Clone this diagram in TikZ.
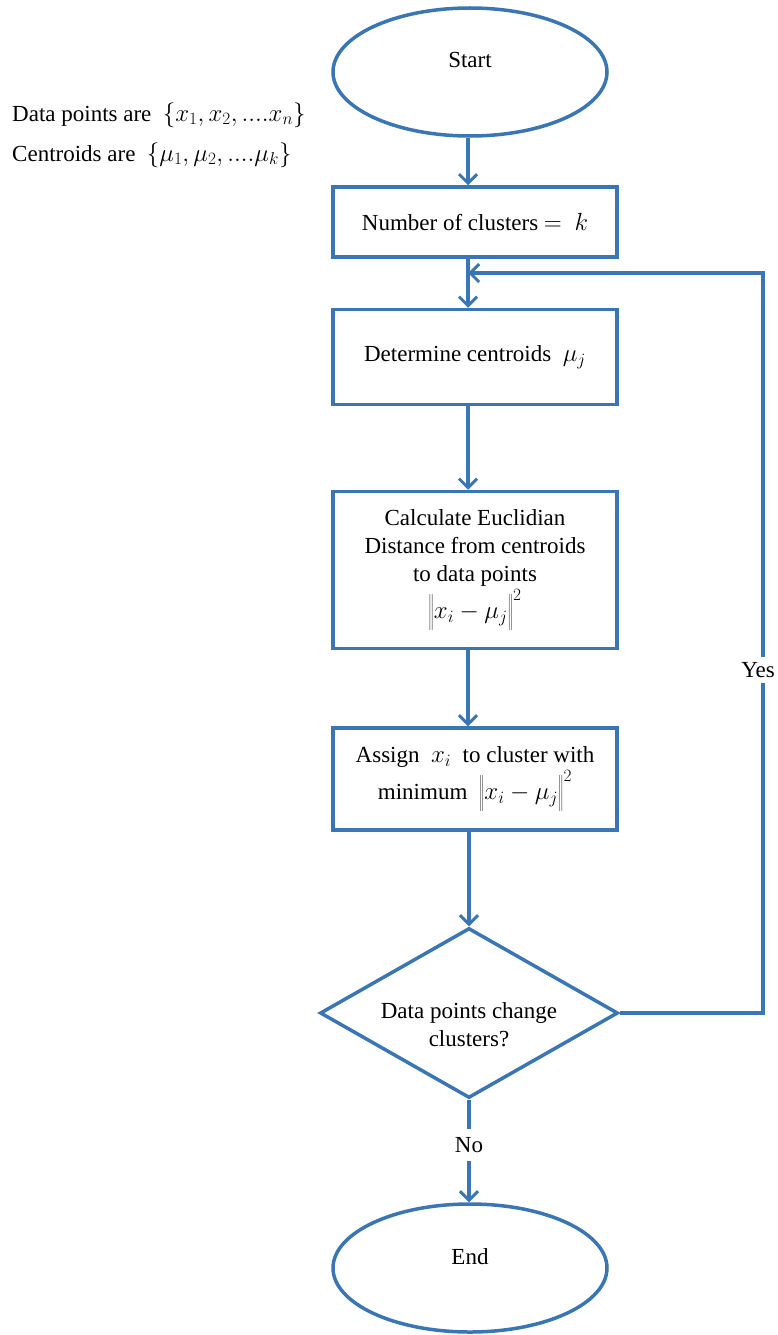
\documentclass[tikz,border=0pt]{standalone}
\usepackage{fontspec}
\setmainfont{Liberation Serif}
\usetikzlibrary{shapes.geometric,arrows.meta}
\definecolor{flowblue}{RGB}{58,117,181}
\newcommand{\sqdist}{\left\Vert\rule[-11pt]{0pt}{36pt} x_i - \mu_j \right\Vert^2}
\begin{document}
\begin{tikzpicture}[x=1pt,y=-1pt,
  every node/.style={font=\fontsize{23}{28}\selectfont},
  flowline/.style={draw=flowblue,line width=3.5pt},
  arrow/.style={flowline,-{Straight Barb[length=9pt,width=18pt,line width=3pt]}},
  stepbox/.style={flowline,rectangle,fill=white,minimum width=284pt,align=center,inner sep=4pt},
  terminal/.style={flowline,ellipse,minimum width=274pt,minimum height=128pt},
  decision/.style={flowline,diamond,shape aspect=1.75,minimum width=298pt,minimum height=170pt,inner sep=0pt,align=center},
  plain/.style={inner sep=2pt}]
\useasboundingbox (0,0) rectangle (778,1335);

% input description
\node[plain,anchor=west] (datapts) at (10,115) {Data points are\ \ $\{x_1, x_2, ....x_n\}$};
\node[plain,anchor=west] (cents) at (10,155) {Centroids are\ \ $\{\mu_1, \mu_2, ....\mu_k\}$};

% flow nodes
\node[terminal] (start) at (470,72) {};
\node[plain] (starttxt) at (470,60) {Start};
\node[stepbox,minimum height=70pt] (nclust) at (475,222) {Number of clusters $=\ k$};
\node[stepbox,minimum height=95pt] (determine) at (475,357) {Determine centroids\ \ $\mu_j$};
\node[stepbox,minimum height=157pt] (distance) at (475,570)
  {Calculate Euclidian\\Distance from centroids\\to data points\\[2pt]$\sqdist$};
\node[stepbox,minimum height=102pt] (assign) at (475,779)
  {Assign\ \ $x_i$\ \ to cluster with\\[2pt]minimum\ \ $\sqdist$};
\node[decision] (change) at (469,1013) {\rule{0pt}{40pt}Data points change\\clusters?};
\node[plain,inner sep=8pt] (no) at (469,1145) {No};
\node[terminal] (finish) at (470,1268) {};
\node[plain] (finishtxt) at (470,1257) {End};

% loop-back junction and right-hand corner
\coordinate (merge) at (468,273);
\coordinate (corner) at (763,1013);

% connectors
\draw[arrow] (start.south -| merge) -- (nclust.north -| merge);
\draw[arrow] (nclust.south -| merge) -- (determine.north -| merge);
\draw[arrow] (determine.south -| merge) -- (distance.north -| merge);
\draw[arrow] (distance.south -| merge) -- (assign.north -| merge);
\draw[arrow] (assign.south -| change.north) -- (change.north);
\draw[flowline] (change.south) -- (no.north);
\draw[arrow] (no.south) -- (no.south |- finish.north);
\draw[arrow] (change.east) -- (corner) |- (merge);
\node[plain,fill=white,inner sep=5pt] (yes) at (758,670) {Yes};
\end{tikzpicture}
\end{document}
